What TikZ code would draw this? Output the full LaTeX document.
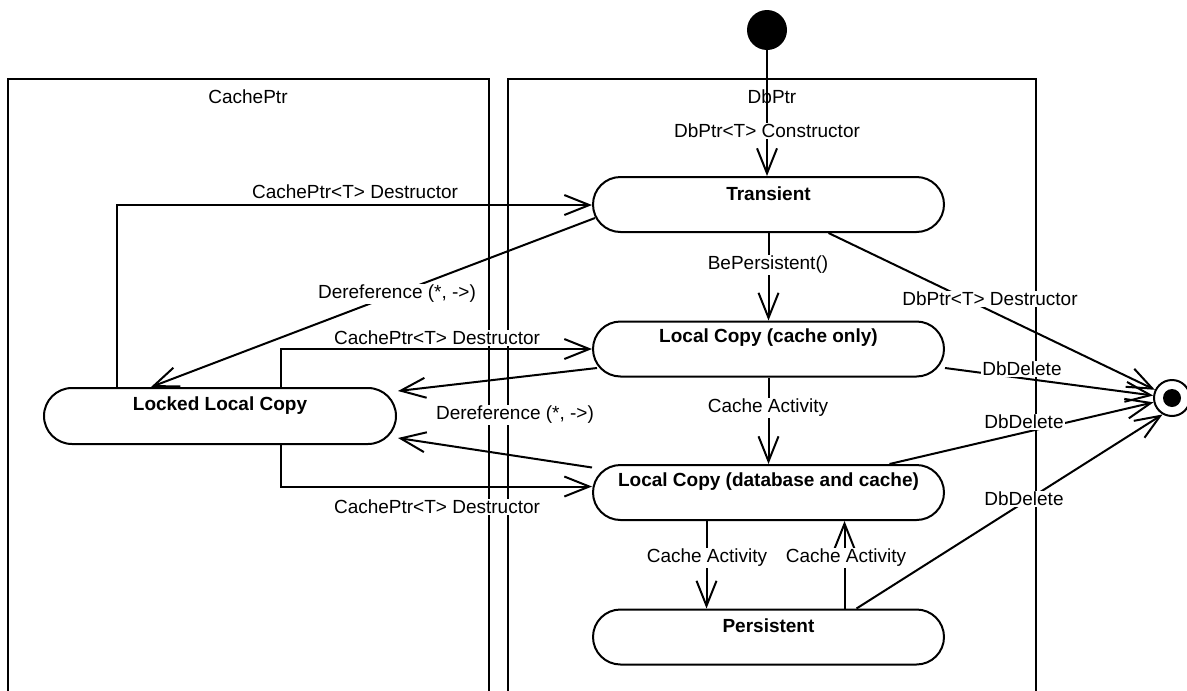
\documentclass[tikz,border=0pt]{standalone}
\usepackage{fontspec}
\setmainfont{Liberation Sans}
\usetikzlibrary{arrows.meta,calc}
\begin{document}
\begin{tikzpicture}[x=1pt,y=-1pt,
  every node/.style={font=\fontsize{19}{22}\selectfont},
  boxline/.style={line width=2pt},
  stateb/.style={draw, line width=2pt, rectangle, rounded corners=27.5pt,
    minimum width=351pt, minimum height=55pt, inner sep=0pt},
  stitle/.style={font=\fontsize{19}{22}\selectfont\bfseries, yshift=11pt},
  arr/.style={line width=2pt, -{Straight Barb[length=25pt,width=20pt]}},
  plain/.style={line width=2pt},
  lbl/.style={fill=white, inner sep=1pt}]
\useasboundingbox (0,0) rectangle (1187,691);

% containers
\draw[boxline] (8,700) -- (8,79) -- (489,79) -- (489,700);
\draw[boxline] (508,700) -- (508,79) -- (1036,79) -- (1036,700);
\node (cptitle) at (248,97) {CachePtr};
\node (dbtitle) at (772,97) {DbPtr};

% states
\node[circle, fill=black, minimum size=40pt, inner sep=0pt] (init) at (767,30) {};
\node[circle, draw, line width=2pt, fill=white, minimum size=36pt, inner sep=0pt] (fin) at (1172,398) {};
\node[circle, fill=black, minimum size=18pt, inner sep=0pt] (findot) at (fin.center) {};

\node[stateb, label={[stitle]center:Transient}] (tr) at (768.5,204.5) {};
\node[stateb, label={[stitle]center:Local Copy (cache only)}] (lc) at (768.5,349) {};
\node[stateb, label={[stitle]center:Local Copy (database and cache)}] (ldb) at (768.5,492.5) {};
\node[stateb, label={[stitle]center:Persistent}] (pers) at (768.5,637) {};
\node[stateb, minimum width=352pt, minimum height=56pt, rounded corners=28pt,
      label={[stitle, yshift=-1pt]center:Locked Local Copy}] (lk) at (220,416) {};

% connectors
\draw[arr] (init) -- (init |- tr.north);
\draw[arr] ($(lk.north)+(-103,0)$) |- ($(tr.west)+(0,0.5)$);
\draw[arr] ($(tr.west)+(3,13.5)$) -- ($(lk.north)+(-69,0)$);
\draw[arr] ($(lk.north)+(61,0)$) |- (lc.west);
\draw[arr] ($(lc.west)+(5,19)$) -- ($(lk.east)+(1,-25)$);
\draw[arr] ($(ldb.west)+(0,-25)$) -- ($(lk.east)+(1,22)$);
\draw[arr] ($(lk.south)+(61,0)$) |- ($(ldb.west)+(0,-6)$);
\draw[arr] (tr.south) -- (lc.north);
\draw[arr] (lc.south) -- (ldb.north);
\draw[arr] ($(ldb.south)+(-62,0)$) -- ($(pers.north)+(-62,0)$);
\draw[arr] ($(pers.north)+(76,0)$) -- ($(ldb.south)+(76,0)$);
\draw[arr] ($(tr.south)+(60,0)$) -- (fin);
\draw[arr] ($(lc.east)+(0,19)$) -- (fin);
\draw[arr] ($(ldb.north)+(121,0)$) -- (fin);
\draw[arr] ($(pers.north)+(88,0)$) -- (fin.240);

% connector labels
\node[lbl] (l1) at (767,131) {DbPtr<T> Constructor};
\node[lbl] (l2) at (355,192) {CachePtr<T> Destructor};
\node[lbl] (l3) at (397,294) {Dereference (*, ->)};
\node[lbl] (l4) at (437,338) {CachePtr<T> Destructor};
\node[lbl] (l5) at (515,415) {Dereference (*, ->)};
\node[lbl] (l6) at (437,507) {CachePtr<T> Destructor};
\node[lbl] (l7) at (768,265) {BePersistent()};
\node[lbl] (l8) at (768,408) {Cache Activity};
\node[lbl] (l9) at (707,558) {Cache Activity};
\node[lbl] (l10) at (846,558) {Cache Activity};
\node[lbl] (l11) at (990,299) {DbPtr<T> Destructor};
\node[lbl] (l12) at (1022,369) {DbDelete};
\node[lbl] (l13) at (1024,422) {DbDelete};
\node[lbl] (l14) at (1024,499) {DbDelete};
\end{tikzpicture}
\end{document}
